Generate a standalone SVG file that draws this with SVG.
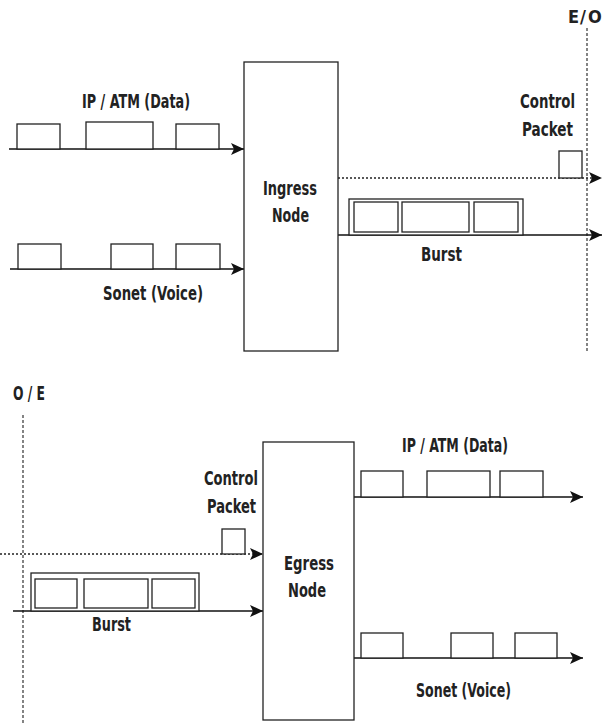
<svg xmlns="http://www.w3.org/2000/svg" width="605" height="724" viewBox="0 0 605 724">
<style>
.box{fill:#fff;stroke:#222;stroke-width:1.3}
.pk{fill:#fff;stroke:#222;stroke-width:1.3}
.ln{fill:none;stroke:#111;stroke-width:1.5}
.dot{fill:none;stroke:#222;stroke-width:1.3;stroke-dasharray:2,2}
.vd{fill:none;stroke:#333;stroke-width:1.2;stroke-dasharray:3,2}
text{font-family:"Liberation Sans Narrow","DejaVu Sans Condensed","Liberation Sans",sans-serif;font-weight:bold;font-size:20px;fill:#222}
</style>
<defs>
<marker id="ah" markerUnits="userSpaceOnUse" markerWidth="14" markerHeight="12" refX="13" refY="6" orient="auto">
<path d="M0,0 L13,6 L0,12 L3,6 z" fill="#111"/>
</marker>
</defs>
<rect width="605" height="724" fill="#fff"/>

<g id="eo-line">
<line class="vd" x1="587" y1="28" x2="587" y2="352"/>
<text x="568 579 580 586 588" y="23" style="font-size:18px">E / O</text>
</g>
<g id="oe-line">
<line class="vd" x1="23" y1="415" x2="23" y2="724"/>
<text x="13" y="400" textLength="32" lengthAdjust="spacingAndGlyphs">O / E</text>
</g>

<g id="connectors">
<line class="ln" x1="9" y1="149" x2="244" y2="149" marker-end="url(#ah)"/>
<line class="ln" x1="10" y1="269" x2="244" y2="269" marker-end="url(#ah)"/>
<line class="dot" x1="338" y1="178" x2="602" y2="178" marker-end="url(#ah)"/>
<line class="ln" x1="338" y1="235" x2="602" y2="235" marker-end="url(#ah)"/>
<line class="dot" x1="0" y1="554" x2="263" y2="554" marker-end="url(#ah)"/>
<line class="ln" x1="13" y1="611" x2="263" y2="611" marker-end="url(#ah)"/>
<line class="ln" x1="354" y1="497" x2="583" y2="497" marker-end="url(#ah)"/>
<line class="ln" x1="354" y1="658" x2="583" y2="658" marker-end="url(#ah)"/>
</g>

<g id="ingress-data-packets">
<rect class="pk" x="17" y="124" width="43" height="25"/>
<rect class="pk" x="86" y="122" width="67" height="27"/>
<rect class="pk" x="176" y="124" width="43" height="25"/>
<text x="82" y="108" textLength="108" lengthAdjust="spacingAndGlyphs">IP / ATM (Data)</text>
</g>
<g id="ingress-voice-packets">
<rect class="pk" x="18" y="244" width="43" height="25"/>
<rect class="pk" x="111" y="244" width="42" height="25"/>
<rect class="pk" x="176" y="244" width="44" height="25"/>
<text x="103" y="300" textLength="100" lengthAdjust="spacingAndGlyphs">Sonet (Voice)</text>
</g>

<g id="ingress-node">
<rect class="box" x="244" y="62" width="94" height="289"/>
<text x="263" y="195" textLength="54" lengthAdjust="spacingAndGlyphs">Ingress</text>
<text x="272" y="222" textLength="37" lengthAdjust="spacingAndGlyphs">Node</text>
</g>

<g id="ingress-control-packet">
<rect class="pk" x="559" y="151" width="23" height="27"/>
<text x="520" y="108" textLength="55" lengthAdjust="spacingAndGlyphs">Control</text>
<text x="522" y="136" textLength="51" lengthAdjust="spacingAndGlyphs">Packet</text>
</g>

<g id="ingress-burst">
<rect class="pk" x="349" y="199" width="174" height="36"/>
<rect class="pk" x="354" y="202" width="44" height="30"/>
<rect class="pk" x="402" y="202" width="67" height="30"/>
<rect class="pk" x="474" y="202" width="44" height="30"/>
<text x="421" y="261" textLength="41" lengthAdjust="spacingAndGlyphs">Burst</text>
</g>

<g id="egress-control-packet">
<rect class="pk" x="222" y="529" width="23" height="25"/>
<text x="204" y="485" textLength="54" lengthAdjust="spacingAndGlyphs">Control</text>
<text x="207" y="513" textLength="49" lengthAdjust="spacingAndGlyphs">Packet</text>
</g>

<g id="egress-burst">
<rect class="pk" x="31" y="573" width="168" height="38"/>
<rect class="pk" x="35" y="579" width="42" height="29"/>
<rect class="pk" x="84" y="579" width="64" height="29"/>
<rect class="pk" x="152" y="579" width="43" height="29"/>
<text x="92" y="631" textLength="39" lengthAdjust="spacingAndGlyphs">Burst</text>
</g>

<g id="egress-node">
<rect class="box" x="263" y="442" width="91" height="278"/>
<text x="284" y="570" textLength="50" lengthAdjust="spacingAndGlyphs">Egress</text>
<text x="288" y="597" textLength="38" lengthAdjust="spacingAndGlyphs">Node</text>
</g>

<g id="egress-data-packets">
<rect class="pk" x="361" y="471" width="42" height="26"/>
<rect class="pk" x="427" y="471" width="63" height="26"/>
<rect class="pk" x="500" y="471" width="43" height="26"/>
<text x="402" y="452" textLength="106" lengthAdjust="spacingAndGlyphs">IP / ATM (Data)</text>
</g>
<g id="egress-voice-packets">
<rect class="pk" x="361" y="633" width="42" height="25"/>
<rect class="pk" x="451" y="633" width="42" height="25"/>
<rect class="pk" x="515" y="633" width="42" height="25"/>
<text x="416" y="697" textLength="95" lengthAdjust="spacingAndGlyphs">Sonet (Voice)</text>
</g>
</svg>
